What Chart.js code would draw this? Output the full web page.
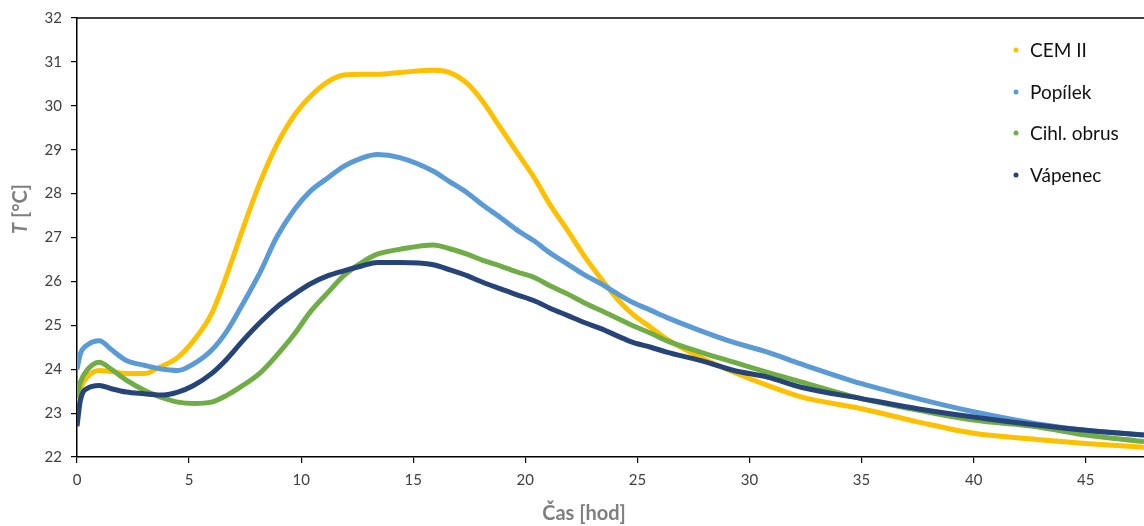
<!DOCTYPE html>
<html lang="cs">
<head>
    <meta charset="UTF-8">
    <title>Teplota – čas</title>
    <script src="https://cdn.jsdelivr.net/npm/chart.js"></script>
    <style>
        html, body {
            margin: 0;
            padding: 0;
            background: #ffffff;
        }
        canvas {
            display: block;
        }
    </style>
</head>
<body>
    <canvas id="tempChart" width="1144" height="526"></canvas>

    <script>
        // time [hod] of the read-off points, shared by all series
        const hours = [0, 0.15, 0.45, 1, 1.5, 2.2, 3, 3.7, 4.5, 5.2, 6, 6.7, 7.4, 8.2, 8.9, 9.7,
            10.4, 11.2, 11.9, 12.7, 13.4, 14.4, 15.9, 16.6, 17.4, 18.1, 18.9, 19.6, 20.4, 21.1,
            21.9, 22.6, 23.4, 24.1, 24.8, 25.6, 26.3, 27.8, 29.3, 30.8, 32.3, 35, 37.5, 40,
            42.8, 45, 47.6];

        const seriesNames = ['CEM II', 'Popílek', 'Cihl. obrus', 'Vápenec'];

        const cemII = [23.25, 23.55, 23.82, 23.97, 23.95, 23.9, 23.9, 24.05, 24.27, 24.65, 25.26, 26.17,
            27.2, 28.3, 29.1, 29.79, 30.21, 30.55, 30.7, 30.72, 30.72, 30.76, 30.81, 30.76, 30.51,
            30.1, 29.49, 28.96, 28.36, 27.75, 27.15, 26.6, 26.05, 25.6, 25.25, 24.95, 24.69, 24.27,
            23.93, 23.63, 23.37, 23.1, 22.8, 22.54, 22.4, 22.31, 22.22];

        const popilek = [24.0, 24.35, 24.55, 24.65, 24.46, 24.2, 24.09, 24.01, 23.97, 24.12, 24.43, 24.88,
            25.49, 26.24, 27.0, 27.64, 28.05, 28.36, 28.62, 28.81, 28.89, 28.82, 28.51, 28.28, 28.02,
            27.74, 27.45, 27.18, 26.92, 26.65, 26.39, 26.16, 25.94, 25.72, 25.52, 25.34, 25.18, 24.88,
            24.61, 24.39, 24.12, 23.67, 23.33, 23.03, 22.76, 22.61, 22.5];

        const cihlObrus = [23.35, 23.7, 23.98, 24.16, 24.01, 23.75, 23.52, 23.37, 23.25, 23.22, 23.25, 23.41,
            23.63, 23.93, 24.31, 24.8, 25.3, 25.75, 26.13, 26.43, 26.62, 26.73, 26.83, 26.75, 26.62,
            26.48, 26.35, 26.22, 26.09, 25.9, 25.71, 25.52, 25.33, 25.16, 24.99, 24.82, 24.65, 24.39,
            24.16, 23.93, 23.71, 23.33, 23.07, 22.84, 22.69, 22.5, 22.35];

        const vapenec = [22.7, 23.29, 23.56, 23.63, 23.56, 23.48, 23.44, 23.41, 23.48, 23.63, 23.9, 24.24,
            24.65, 25.08, 25.41, 25.71, 25.94, 26.13, 26.24, 26.35, 26.43, 26.43, 26.38, 26.27, 26.13,
            25.98, 25.83, 25.7, 25.56, 25.39, 25.22, 25.07, 24.92, 24.76, 24.61, 24.5, 24.39, 24.2,
            23.97, 23.82, 23.59, 23.33, 23.1, 22.91, 22.73, 22.61, 22.5];

        const xTitle = 'Čas [hod]';
        const yTitleItalic = 'T';
        const yTitleRest = ' [°C]';

        const colors = ['#FFC000', '#5B9BD5', '#70AD47', '#264478'];
        const allSeries = [cemII, popilek, cihlObrus, vapenec];

        const toPoints = vals => hours.map((h, i) => ({ x: h, y: vals[i] }));

        // titles and legend are drawn by hand so they sit where the original has them
        const decorations = {
            id: 'decorations',
            afterDraw(chart) {
                const c = chart.ctx;
                const area = chart.chartArea;
                c.save();

                // top frame line
                c.strokeStyle = '#000';
                c.lineWidth = 1.5;
                c.beginPath();
                c.moveTo(area.left, area.top);
                c.lineTo(area.right, area.top);
                c.stroke();

                // x axis title
                c.fillStyle = '#7f7f7f';
                c.font = 'bold 20px Lato';
                c.textAlign = 'center';
                c.textBaseline = 'alphabetic';
                c.fillText(xTitle, 584, 520);

                // y axis title, rotated, italic T
                c.translate(27, 209);
                c.rotate(-Math.PI / 2);
                c.font = 'italic bold 20px Lato';
                const w1 = c.measureText(yTitleItalic).width;
                c.font = 'bold 20px Lato';
                const w2 = c.measureText(yTitleRest).width;
                const start = -(w1 + w2) / 2;
                c.textAlign = 'left';
                c.font = 'italic bold 20px Lato';
                c.fillText(yTitleItalic, start, 0);
                c.font = 'bold 20px Lato';
                c.fillText(yTitleRest, start + w1, 0);
                c.setTransform(1, 0, 0, 1, 0, 0);

                // legend
                const rows = [50, 92, 133, 175];
                c.font = '19px Lato';
                c.textBaseline = 'middle';
                seriesNames.forEach((name, i) => {
                    c.fillStyle = colors[i];
                    c.beginPath();
                    c.arc(1016, rows[i], 2.5, 0, Math.PI * 2);
                    c.fill();
                    c.fillStyle = '#111';
                    c.fillText(name, 1030, rows[i] + 1);
                });

                c.restore();
            }
        };

        const ctx = document.getElementById('tempChart').getContext('2d');

        const chart = new Chart(ctx, {
            type: 'line',
            data: {
                datasets: seriesNames.map((name, i) => ({
                    label: name,
                    data: toPoints(allSeries[i]),
                    borderColor: colors[i],
                    backgroundColor: colors[i],
                    borderWidth: 5,
                    pointRadius: 0,
                    cubicInterpolationMode: 'monotone',
                    fill: false,
                    order: seriesNames.length - i
                }))
            },
            options: {
                responsive: false,
                devicePixelRatio: 1,
                animation: false,
                layout: {
                    padding: { top: 16, right: 0, left: 0, bottom: 0 }
                },
                plugins: {
                    legend: { display: false },
                    tooltip: { enabled: false }
                },
                scales: {
                    x: {
                        type: 'linear',
                        min: 0,
                        max: 47.6,
                        afterFit(scale) { scale.height = 69; },
                        border: { color: '#000', width: 1.5 },
                        grid: {
                            drawOnChartArea: false,
                            drawTicks: true,
                            tickLength: 6,
                            color: '#000',
                            lineWidth: 1.2
                        },
                        ticks: {
                            stepSize: 5,
                            includeBounds: false,
                            maxRotation: 0,
                            padding: 8,
                            color: '#404040',
                            font: { family: 'Lato', size: 15 }
                        }
                    },
                    y: {
                        min: 22,
                        max: 32,
                        afterFit(scale) { scale.width = 77; },
                        border: { color: '#000', width: 1.5 },
                        grid: {
                            drawOnChartArea: false,
                            drawTicks: true,
                            tickLength: 6,
                            color: '#000',
                            lineWidth: 1.2
                        },
                        ticks: {
                            stepSize: 1,
                            padding: 9,
                            color: '#404040',
                            font: { family: 'Lato', size: 15 }
                        }
                    }
                }
            },
            plugins: [decorations]
        });
    </script>
</body>
</html>
